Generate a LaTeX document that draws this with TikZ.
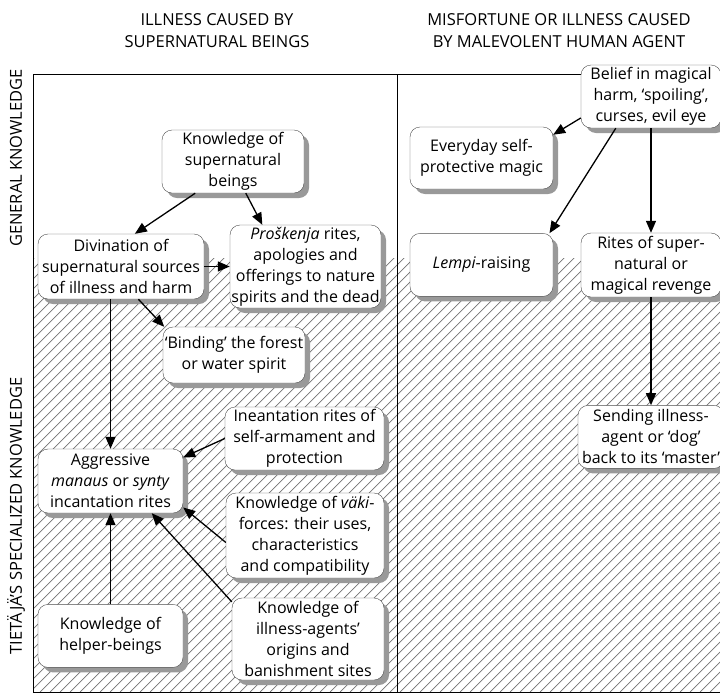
\documentclass[tikz,border=0pt]{standalone}
\usepackage{fontspec}
\setmainfont{Open Sans}
\usetikzlibrary{arrows.meta}
\usetikzlibrary{positioning}
\usetikzlibrary{shadows}
\tikzset{
  % rounded box with a grey drop shadow
  box/.style = {
    draw = black!70,
    fill = white,
    rounded corners = 10pt,
    align = center,
    inner sep = 1pt,
    font = \fontsize{16}{21}\selectfont,
    drop shadow = {shadow xshift = 5pt, shadow yshift = -5pt,
                   fill = black!40, opacity = 1}
  },
  % size of a box
  sz/.style 2 args = {
    minimum width = #1pt,
    minimum height = #2pt
  },
  % path style with an arrow at the end
  arr/.style = {
    draw = black,
    line width = 1.3pt,
    -{Triangle[length = 12pt, width = 10pt]}
  },
  hatch/.style = {
    draw = black!55,
    line width = 0.7pt
  },
  heading/.style = {
    align = center,
    font = \fontsize{16.5}{22}\selectfont
  }
}

\begin{document}
\begin{tikzpicture}[x=1pt, y=-1pt]
  \useasboundingbox (0,0) rectangle (720,694);
  \clip (0,0) rectangle (720,694);

  \node[heading] (left-title) at (217,31) {ILLNESS CAUSED BY\\SUPERNATURAL BEINGS};
  \node[heading] (right-title) at (559,31) {MISFORTUNE OR ILLNESS CAUSED\\BY MALEVOLENT HUMAN AGENT};
  \node[heading, rotate=90] (general) at (16,158) {GENERAL KNOWLEDGE};
  \node[heading, rotate=90] (special) at (16,516) {TIETÄJÄ’S SPECIALIZED KNOWLEDGE};

  \begin{scope}
    \clip (33,258) rectangle (720,692);
    \foreach \x in {-420,-410,...,720}
      \draw[hatch] (\x,692) -- ++(440,-440);
  \end{scope}
  \draw[line width=0.9pt] (722,74) -- (33,74) -- (33,692) -- (722,692);
  \draw[line width=0.9pt] (397,74) -- (397,692);

  \node[box, sz={142}{63}] (beings) at (233,161.5) {Knowledge of\\supernatural\\beings};
  \node[box, sz={166}{65}] (divination) at (121,266.5) {Divination of\\supernatural sources\\of illness and harm};
  \node[box, sz={151}{83}] (proskenja) at (305.5,266.5) {\textit{Proškenja} rites,\\apologies and\\offerings to nature\\spirits and the dead};
  \node[box, sz={142}{56}] (binding) at (234,355) {‘Binding’ the forest\\or water spirit};
  \node[box, sz={159}{63}] (incantation) at (304.5,438.5) {Ineantation rites of\\self-armament and\\protection};
  \node[box, sz={145}{64}] (aggressive) at (110.5,481) {Aggressive\\\textit{manaus} or \textit{synty}\\incantation rites};
  \node[box, sz={158}{85}] (vaki) at (305,535.5) {Knowledge of \textit{väki}-\\forces: their uses,\\characteristics\\and compatibility};
  \node[box, sz={145}{63}] (helper) [below=91pt of aggressive] {Knowledge of\\helper-beings};
  \node[box, sz={152}{82}] (agents) at (308,639) {Knowledge of\\illness-agents’\\origins and\\banishment sites};

  \node[box, sz={140}{63}] (belief) at (651,96.5) {Belief in magical\\harm, ‘spoiling’,\\curses, evil eye};
  \node[box, sz={143}{62}] (everyday) at (481.5,158) {Everyday self-\\protective magic};
  \node[box, sz={143}{63}] (lempi) [below=44pt of everyday] {\textit{Lempi}-raising};
  \node[box, sz={140}{64}] (rites) at (651,265) {Rites of super-\\natural or\\magical revenge};
  \node[box, sz={146}{63}] (sending) [below=108pt of rites] {Sending illness-\\agent or ‘dog’\\back to its ‘master’};

  \draw[arr] (beings.220) -- (divination.67);
  \draw[arr] (beings.292) -- (proskenja.136);
  \draw[arr] (divination) -- (proskenja);
  \draw[arr] (divination.298) -- (binding.158);
  \draw[arr] (divination.south -| aggressive.north) -- (aggressive.north);
  \draw[arr] (incantation.west) -- (aggressive.18);
  \draw[arr] (vaki.185) -- (aggressive.340);
  \draw[arr] (agents.154) -- (aggressive.322);
  \draw[arr] (helper) -- (aggressive);
  \draw[arr] (belief.197) -- (everyday.18);
  \draw[arr] (belief.222) -- (lempi.25);
  \draw[arr] (belief.south -| rites.north) -- (rites.north);
  \draw[arr] (rites) -- (sending);
\end{tikzpicture}
\end{document}
